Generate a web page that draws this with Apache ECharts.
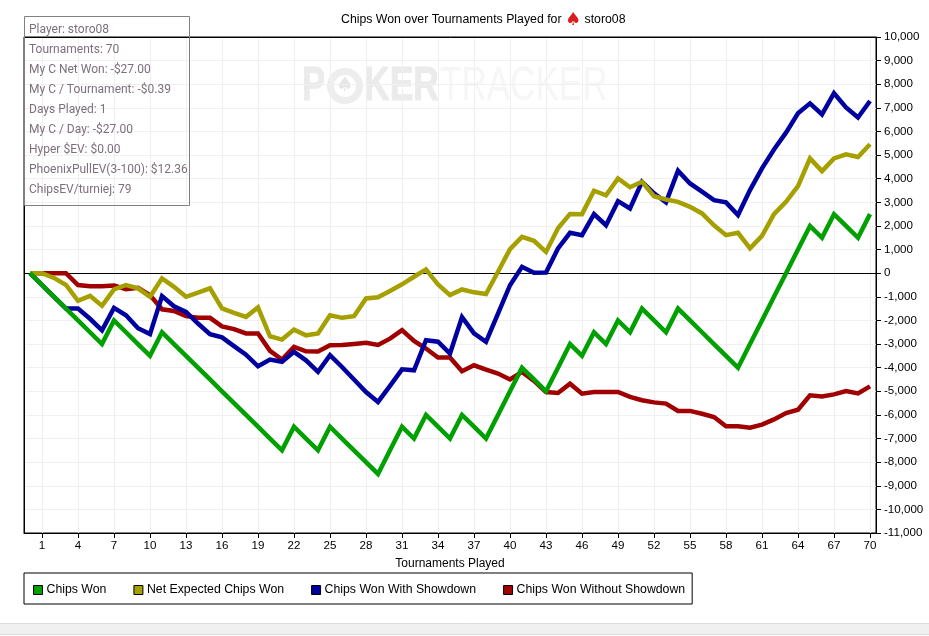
<!DOCTYPE html>
<html>
<head>
<meta charset="utf-8">
<title>Chips Won over Tournaments Played</title>
<script src="https://cdn.jsdelivr.net/npm/echarts@6/dist/echarts.min.js"></script>
<style>
  html, body { margin: 0; padding: 0; background: #fff; }
  #chart { width: 929px; height: 636px; }
</style>
</head>
<body>
<div id="chart"></div>
<script>
// first entry of every list is the starting point, drawn one slot left of tournament 1
const chipsWon = [0, -500, -1000, -1500, -2000, -2500, -3000, -2000, -2500, -3000, -3500,
  -2500, -3000, -3500, -4000, -4500, -5000, -5500, -6000, -6500, -7000,
  -7500, -6500, -7000, -7500, -6500, -7000, -7500, -8000, -8500, -7500,
  -6500, -7000, -6000, -6500, -7000, -6000, -6500, -7000, -6000, -5000,
  -4000, -4500, -5000, -4000, -3000, -3500, -2500, -3000, -2000, -2500,
  -1500, -2000, -2500, -1500, -2000, -2500, -3000, -3500, -4000, -3000,
  -2000, -1000, 0, 1000, 2000, 1500, 2500, 2000, 1500, 2500]
const netExpected = [0, 0, -200, -500, -1170, -960, -1380, -690, -500, -640, -1000,
  -220, -580, -1000, -820, -640, -1490, -1680, -1850, -1450, -2670,
  -2810, -2390, -2630, -2550, -1780, -1890, -1820, -1070, -1020, -750,
  -470, -150, 160, -480, -930, -690, -810, -880, 60, 1020,
  1540, 1370, 900, 1900, 2510, 2500, 3490, 3300, 4010, 3640,
  3870, 3260, 3120, 3020, 2810, 2530, 2030, 1610, 1710, 1050,
  1580, 2500, 3020, 3690, 4860, 4320, 4860, 5030, 4920, 5460]
const withShowdown = [0, -500, -1000, -1500, -1500, -1930, -2420, -1470, -1780, -2330, -2580,
  -970, -1400, -1640, -2130, -2580, -2720, -3090, -3450, -3940, -3660,
  -3750, -3330, -3690, -4180, -3470, -3970, -4500, -5030, -5450, -4770,
  -4070, -4110, -2840, -2900, -3400, -1860, -2550, -2910, -1710, -510,
  270, 15, 30, 1050, 1710, 1610, 2500, 2030, 3050, 2740,
  3870, 3380, 3000, 4340, 3800, 3450, 3090, 3000, 2460, 3520,
  4440, 5240, 5950, 6770, 7190, 6720, 7620, 7020, 6590, 7290]
const withoutShowdown = [0, 0, 0, 0, -500, -550, -550, -520, -680, -620, -930,
  -1530, -1600, -1820, -1890, -1890, -2250, -2370, -2550, -2550, -3290,
  -3660, -3120, -3310, -3320, -3050, -3040, -3000, -2950, -3040, -2770,
  -2410, -2870, -3190, -3570, -3570, -4150, -3900, -4080, -4250, -4500,
  -4180, -4560, -5030, -5070, -4680, -5100, -5030, -5030, -5030, -5240,
  -5380, -5470, -5520, -5830, -5830, -5950, -6090, -6480, -6480, -6540,
  -6410, -6190, -5920, -5780, -5170, -5220, -5130, -4990, -5090, -4790]

const stats = [
  'Player: storo08',
  'Tournaments: 70',
  'My C Net Won: -$27.00',
  'My C / Tournament: -$0.39',
  'Days Played: 1',
  'My C / Day: -$27.00',
  'Hyper $EV: $0.00',
  'PhoenixPullEV(3-100): $12.36',
  'ChipsEV/turniej: 79'
]

const font = 'Liberation Sans'
const xTicks = [1, 4, 7, 10, 13, 16, 19, 22, 25, 28, 31, 34, 37, 40, 43, 46, 49, 52, 55, 58, 61, 64, 67, 70]

function line(name, color, z, values, extra) {
  return Object.assign({
    name: name,
    type: 'line',
    data: values.map((v, i) => [i, v]),
    z: z,
    symbol: 'none',
    smooth: false,
    itemStyle: { color: color },
    lineStyle: { color: color, width: 4.5, join: 'miter' },
    emphasis: { disabled: true }
  }, extra)
}

const statTexts = stats.map((text, i) => ({
  type: 'text',
  z: 20,
  silent: true,
  style: {
    x: 29, y: 29.5 + i * 20,
    text: text,
    fill: '#7d6f7c',
    font: '12px Roboto',
    verticalAlign: 'middle'
  }
}))

const markFont = 'bold 48px "Liberation Sans"'
const watermark = [
  { type: 'text', z: 0, silent: true, x: 302, y: 87, scaleX: 0.72, style: { x: 0, y: 0, text: 'P', fill: '#ebebeb', stroke: '#ebebeb', lineWidth: 1, font: markFont, verticalAlign: 'middle' } },
  { type: 'circle', z: 0, silent: true, shape: { cx: 345, cy: 86, r: 18 }, style: { fill: '#ededed' } },
  { type: 'circle', z: 0, silent: true, shape: { cx: 345, cy: 86, r: 11 }, style: { fill: '#fff' } },
  { type: 'text', z: 0, silent: true, style: { x: 345, y: 86, text: '♠', fill: '#e6e6e6', font: '20px "DejaVu Sans"', align: 'center', verticalAlign: 'middle' } },
  { type: 'text', z: 0, silent: true, x: 364, y: 87, scaleX: 0.74, style: { x: 0, y: 0, text: 'KER', fill: '#ebebeb', stroke: '#ebebeb', lineWidth: 1, font: markFont, verticalAlign: 'middle' } },
  { type: 'text', z: 0, silent: true, x: 440, y: 87, scaleX: 0.73, style: { x: 0, y: 0, text: 'TRACKER', fill: '#f6f6f6', font: '48px "Liberation Sans"', verticalAlign: 'middle' } }
]

const chart = echarts.init(document.getElementById('chart'))
chart.setOption({
  animation: false,
  backgroundColor: '#fff',
  title: {
    text: 'Chips Won over Tournaments Played for {s|♠} storo08',
    left: 341,
    top: 11,
    padding: 0,
    textStyle: {
      color: '#000',
      fontFamily: font,
      fontWeight: 'normal',
      fontSize: 12.3,
      rich: {
        s: { color: '#d81e1e', fontFamily: 'DejaVu Sans', fontSize: 18 }
      }
    }
  },
  legend: {
    left: 24,
    top: 573,
    padding: [11, 7, 8, 9],
    itemGap: 27,
    itemWidth: 9,
    itemHeight: 9,
    icon: 'rect',
    borderColor: '#000',
    borderWidth: 1,
    itemStyle: { borderColor: '#000', borderWidth: 1 },
    textStyle: { color: '#000', fontFamily: font, fontSize: 12.3, padding: [0, 0, 0, -1] },
    selectedMode: false,
    data: ['Chips Won', 'Net Expected Chips Won', 'Chips Won With Showdown', 'Chips Won Without Showdown']
  },
  grid: {
    left: 24, right: 53, top: 37, bottom: 103,
    show: true,
    borderColor: '#000',
    borderWidth: 1
  },
  xAxis: {
    type: 'value',
    min: -0.5,
    max: 70.5,
    name: 'Tournaments Played',
    nameLocation: 'middle',
    nameGap: 25,
    nameTextStyle: { color: '#000', fontFamily: font, fontSize: 12 },
    axisLine: { onZero: false, lineStyle: { color: '#000' } },
    axisTick: { customValues: xTicks, length: 5, lineStyle: { color: '#000' } },
    axisLabel: { customValues: xTicks, color: '#000', fontFamily: font, fontSize: 11.6, margin: 7 },
    splitLine: { show: true, lineStyle: { color: '#f0f0f0', width: 1 } }
  },
  yAxis: {
    type: 'value',
    position: 'right',
    min: -11000,
    max: 10000,
    interval: 1000,
    axisLine: { show: true, onZero: false, lineStyle: { color: '#000' } },
    axisTick: { show: true, length: 5, lineStyle: { color: '#000' } },
    axisLabel: {
      color: '#000',
      fontFamily: font,
      fontSize: 11.6,
      margin: 8,
      padding: [3, 0, 0, 0],
      formatter: v => v.toLocaleString('en-US')
    },
    splitLine: { show: true, lineStyle: { color: '#f0f0f0', width: 1 } }
  },
  graphic: [
    ...watermark,
    // grid lines paint over the grid border, so the frame goes on top of them
    { type: 'rect', z: 1, silent: true, shape: { x: 24.5, y: 37.5, width: 852, height: 496 }, style: { fill: 'none', stroke: '#000', lineWidth: 1 } },
    { type: 'rect', z: 20, silent: true, shape: { x: 24.5, y: 16.5, width: 165, height: 189 }, style: { fill: 'none', stroke: '#808080', lineWidth: 1 } },
    ...statTexts,
    { type: 'rect', z: 0, silent: true, shape: { x: -1, y: 623.5, width: 931, height: 11 }, style: { fill: '#f0f0f0', stroke: '#dcdcdc', lineWidth: 1 } }
  ],
  series: [
    line('Chips Won', '#00a000', 8, chipsWon),
    line('Net Expected Chips Won', '#a5a000', 7, netExpected),
    line('Chips Won With Showdown', '#0000a0', 6, withShowdown),
    line('Chips Won Without Showdown', '#a00000', 5, withoutShowdown, {
      markLine: {
        silent: true,
        symbol: 'none',
        animation: false,
        label: { show: false },
        lineStyle: { color: '#000', width: 1, type: 'solid' },
        data: [{ yAxis: 0 }]
      }
    })
  ]
})
</script>
</body>
</html>
